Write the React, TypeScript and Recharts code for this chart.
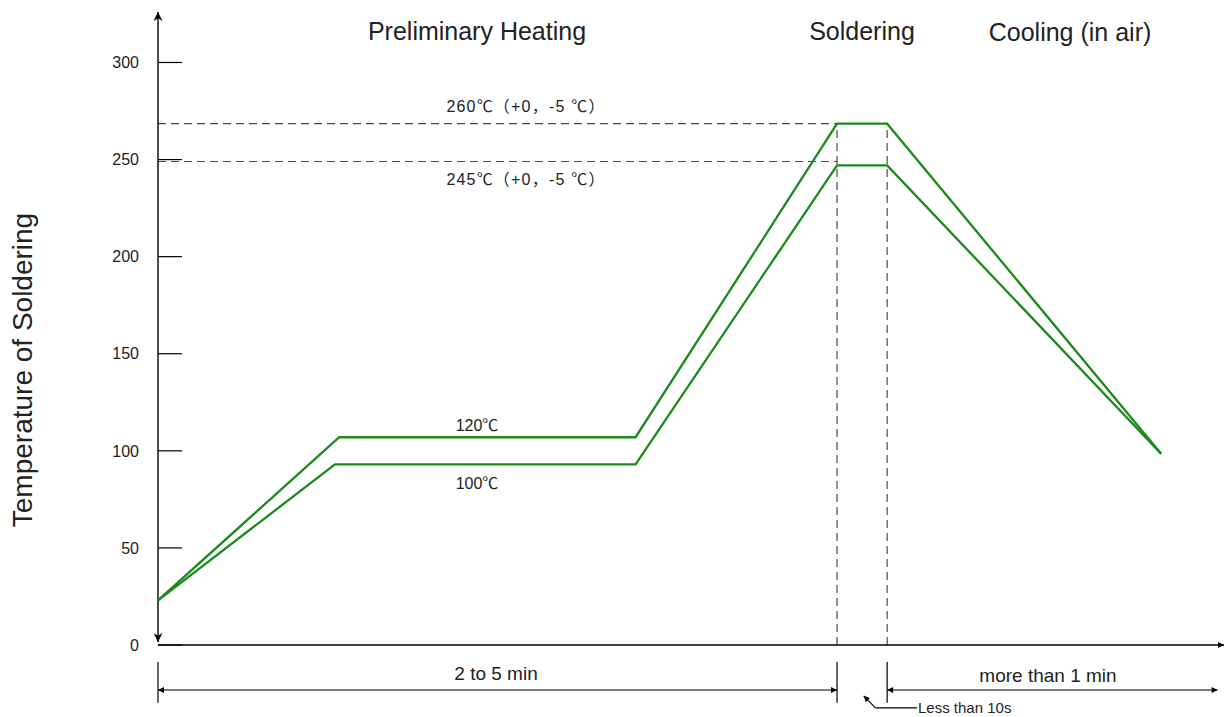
import React from "react";
import { Line, LineChart, ReferenceLine, XAxis, YAxis } from "recharts";

// Schematic soldering profile. Time axis is not to scale (0..100 units),
// temperature in degrees C.
const upperTime = [0, 17.0, 44.8, 63.7, 68.4, 94.1];
const upperTemp = [23, 107, 107, 268.5, 268.5, 98.5];
const lowerTime = [0, 16.6, 44.8, 63.7, 68.4, 94.1];
const lowerTemp = [23, 93, 93, 247, 247, 98.5];

const tempTicks = [0, 50, 100, 150, 200, 250, 300];
const guideLevels = [268.5, 249];
const guideLabels = ["260℃（+0，-5 ℃）", "245℃（+0，-5 ℃）"];
const plateauLabels = ["120℃", "100℃"];
const headers = ["Preliminary Heating", "Soldering", "Cooling (in air)"];
const spanLabels = ["2 to 5 min", "more than 1 min", "Less than 10s"];

const solderStart = 63.7;
const solderEnd = 68.4;
const timeMax = 100;
const tempMax = 326;

// dimension row below the time axis (temperature units below zero)
const dimTickTop = -8.7;
const dimTickBottom = -29.8;
const dimArrowLevel = -23.2;
const dimRightEnd = 99.4;
const leaderTip = { x: 66.2, y: -26.2 };
const leaderCorner = { x: 67.3, y: -32.4 };
const leaderEnd = { x: 71.2, y: -32.4 };

const GREEN = "#1b8a1b";
const INK = "#222";
const FONT = "'Liberation Sans', Arial, 'Noto Sans CJK SC', sans-serif";
const CJK = "'Noto Sans CJK SC', sans-serif";

const upperData = upperTime.map((t, i) => ({ t, temp: upperTemp[i] }));
const lowerData = lowerTime.map((t, i) => ({ t, temp: lowerTemp[i] }));

const arrowLine =
  (start: string | null, end: string | null, width = 1.3) =>
  (p: any) => (
    <line
      x1={p.x1}
      y1={p.y1}
      x2={p.x2}
      y2={p.y2}
      stroke="#000"
      strokeWidth={width}
      markerStart={start ? `url(#${start})` : undefined}
      markerEnd={end ? `url(#${end})` : undefined}
    />
  );

// full-width punctuation and ℃ come from the CJK font
function MixedText({ text }: { text: string }) {
  const parts: { s: string; wide: boolean }[] = [];
  for (const ch of text) {
    const wide = ch.charCodeAt(0) > 0x2000;
    const last = parts[parts.length - 1];
    if (last && last.wide === wide) last.s += ch;
    else parts.push({ s: ch, wide });
  }
  return (
    <>
      {parts.map((p, i) => (
        <tspan key={i} fontFamily={p.wide ? CJK : FONT}>
          {p.s}
        </tspan>
      ))}
    </>
  );
}

function Markers() {
  return (
    <svg width={0} height={0} style={{ position: "absolute" }}>
      <defs>
        <marker
          id="axisArrow"
          viewBox="0 0 10 10"
          refX={10}
          refY={5}
          markerWidth={10}
          markerHeight={9}
          markerUnits="userSpaceOnUse"
          orient="auto-start-reverse"
        >
          <path d="M0,0 L10,5 L0,10 L3,5 z" fill="#000" />
        </marker>
        <marker
          id="dimArrow"
          viewBox="0 0 10 10"
          refX={10}
          refY={5}
          markerWidth={8}
          markerHeight={6}
          markerUnits="userSpaceOnUse"
          orient="auto-start-reverse"
        >
          <path d="M0,0 L10,5 L0,10 z" fill="#000" />
        </marker>
      </defs>
    </svg>
  );
}

export default function App() {
  return (
    <div style={{ position: "absolute", left: 0, top: 0, width: 1225, height: 717, background: "#fff", fontFamily: FONT }}>
      <Markers />
      <LineChart width={1225} height={717} margin={{ top: 12, right: 1, bottom: 72, left: 0 }}>
        <XAxis type="number" dataKey="t" domain={[0, timeMax]} hide allowDataOverflow />
        <YAxis
          type="number"
          domain={[0, tempMax]}
          ticks={tempTicks}
          width={158}
          axisLine={false}
          tickSize={-24}
          tickMargin={43}
          tickLine={{ stroke: "#000", strokeWidth: 1.2 }}
          tick={{ fill: INK, fontSize: 16, fontFamily: FONT }}
          allowDataOverflow
        />

        {/* dashed guides at peak temperatures */}
        {guideLevels.map((lv) => (
          <ReferenceLine
            key={lv}
            segment={[{ x: 0, y: lv }, { x: solderStart, y: lv }]}
            stroke="#4a4a4a"
            strokeWidth={1.2}
            strokeDasharray="8 5"
            ifOverflow="visible"
          />
        ))}
        {[solderStart, solderEnd].map((x) => (
          <ReferenceLine
            key={x}
            segment={[{ x, y: 0 }, { x, y: guideLevels[0] }]}
            stroke="#4a4a4a"
            strokeWidth={1.2}
            strokeDasharray="8 5"
            ifOverflow="visible"
          />
        ))}

        {/* axes with arrow heads */}
        <ReferenceLine
          segment={[{ x: 0, y: 1.5 }, { x: 0, y: tempMax }]}
          ifOverflow="visible"
          shape={arrowLine("axisArrow", "axisArrow", 1.4)}
        />
        <ReferenceLine
          segment={[{ x: 0, y: 0 }, { x: timeMax, y: 0 }]}
          ifOverflow="visible"
          shape={arrowLine(null, "dimArrow", 1.3)}
        />

        {/* dimension row */}
        {[0, solderStart, solderEnd].map((x) => (
          <ReferenceLine
            key={`dt${x}`}
            segment={[{ x, y: dimTickTop }, { x, y: dimTickBottom }]}
            ifOverflow="visible"
            shape={arrowLine(null, null, 1.2)}
          />
        ))}
        <ReferenceLine
          segment={[{ x: 0, y: dimArrowLevel }, { x: solderStart, y: dimArrowLevel }]}
          ifOverflow="visible"
          shape={arrowLine("dimArrow", "dimArrow", 1.1)}
        />
        <ReferenceLine
          segment={[{ x: solderEnd, y: dimArrowLevel }, { x: dimRightEnd, y: dimArrowLevel }]}
          ifOverflow="visible"
          shape={arrowLine("dimArrow", "dimArrow", 1.1)}
        />
        <ReferenceLine
          segment={[leaderEnd, leaderCorner]}
          ifOverflow="visible"
          shape={arrowLine(null, null, 1.1)}
        />
        <ReferenceLine
          segment={[leaderCorner, leaderTip]}
          ifOverflow="visible"
          shape={arrowLine(null, "dimArrow", 1.1)}
        />

        <Line data={upperData} dataKey="temp" type="linear" stroke={GREEN} strokeWidth={2.3} dot={false} isAnimationActive={false} />
        <Line data={lowerData} dataKey="temp" type="linear" stroke={GREEN} strokeWidth={2.3} dot={false} isAnimationActive={false} />

        <g fontFamily={FONT} fill={INK}>
          <text x={477} y={31} dy="0.35em" textAnchor="middle" fontSize={25}>{headers[0]}</text>
          <text x={862} y={31} dy="0.35em" textAnchor="middle" fontSize={25}>{headers[1]}</text>
          <text x={1070} y={32} dy="0.35em" textAnchor="middle" fontSize={25}>{headers[2]}</text>

          <text x={526} y={106} dy="0.35em" textAnchor="middle" fontSize={16} letterSpacing={1.2}><MixedText text={guideLabels[0]} /></text>
          <text x={526} y={179} dy="0.35em" textAnchor="middle" fontSize={16} letterSpacing={1.2}><MixedText text={guideLabels[1]} /></text>
          <text x={477} y={425} dy="0.35em" textAnchor="middle" fontSize={16}><MixedText text={plateauLabels[0]} /></text>
          <text x={477} y={483} dy="0.35em" textAnchor="middle" fontSize={16}><MixedText text={plateauLabels[1]} /></text>

          <text x={496} y={673} dy="0.35em" textAnchor="middle" fontSize={19}>{spanLabels[0]}</text>
          <text x={1048} y={675} dy="0.35em" textAnchor="middle" fontSize={19}>{spanLabels[1]}</text>
          <text x={918} y={708} dy="0.35em" textAnchor="start" fontSize={15}>{spanLabels[2]}</text>

          <text transform="translate(32,370) rotate(-90)" textAnchor="middle" fontSize={28}>
            Temperature of Soldering
          </text>
        </g>
      </LineChart>
    </div>
  );
}
